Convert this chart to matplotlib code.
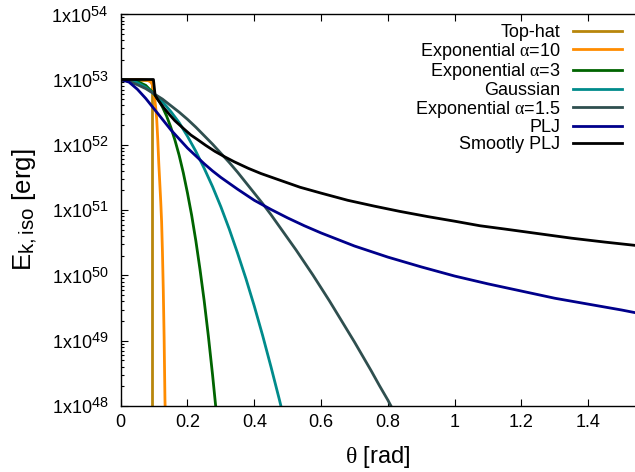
import numpy as np
import matplotlib
matplotlib.use("Agg")
import matplotlib.pyplot as plt
import matplotlib._mathtext as mathtext_internal

plt.rcParams['font.family'] = ['Liberation Sans', 'DejaVu Sans']
plt.rcParams['mathtext.fontset'] = 'custom'
plt.rcParams['mathtext.rm'] = 'Liberation Sans'
plt.rcParams['mathtext.it'] = 'Liberation Serif'
plt.rcParams['mathtext.bf'] = 'Liberation Sans:bold'
# larger sub/superscripts, like gnuplot's enhanced text
mathtext_internal.SHRINK_FACTOR = 0.8

# jet angle theta [rad] and log10 of E_k,iso [erg] for each jet structure
theta_tophat = [0.0, 0.094, 0.094]
logE_tophat = [53.0, 53.0, 46.0]

theta_exp10 = [0.0, 0.06, 0.08, 0.09, 0.097, 0.102, 0.105, 0.108, 0.111, 0.114, 0.117,
               0.12, 0.1225, 0.125, 0.1275, 0.13, 0.1325, 0.135]
logE_exp10 = [53.0, 53.0, 52.99, 52.96, 52.9, 52.7, 52.56, 52.38, 52.08, 51.72, 51.42,
              51.12, 50.82, 50.36, 49.78, 49.05, 48.1, 47.6]

theta_exp3 = [0.0, 0.05, 0.075, 0.1, 0.1125, 0.125, 0.1375, 0.15, 0.1625, 0.175, 0.1875,
              0.2, 0.2125, 0.225, 0.2375, 0.25, 0.2625, 0.275, 0.2875]
logE_exp3 = [53.0, 52.97, 52.91, 52.78, 52.69, 52.58, 52.44, 52.27, 52.07, 51.84, 51.57,
             51.26, 50.92, 50.53, 50.09, 49.61, 49.07, 48.48, 47.84]

theta_gauss = [0.0, 0.025, 0.05, 0.075, 0.1, 0.125, 0.15, 0.175, 0.2, 0.225, 0.25,
               0.275, 0.3, 0.325, 0.35, 0.375, 0.4, 0.425, 0.45, 0.475, 0.485]
logE_gauss = [53.0, 52.99, 52.95, 52.88, 52.78, 52.66, 52.51, 52.34, 52.13, 51.9, 51.64,
              51.36, 51.05, 50.71, 50.34, 49.95, 49.53, 49.08, 48.6, 48.1, 47.89]

theta_exp15 = [0.0, 0.025, 0.05, 0.075, 0.1, 0.125, 0.15, 0.175, 0.2, 0.225, 0.25,
               0.275, 0.3, 0.325, 0.35, 0.375, 0.4, 0.425, 0.45, 0.475, 0.5, 0.525,
               0.55, 0.575, 0.6, 0.625, 0.65, 0.675, 0.7, 0.725, 0.75, 0.775, 0.8, 0.825]
logE_exp15 = [53.0, 52.97, 52.92, 52.86, 52.78, 52.7, 52.6, 52.5, 52.39, 52.27, 52.14,
              52.01, 51.87, 51.73, 51.58, 51.42, 51.26, 51.1, 50.93, 50.75, 50.57, 50.39,
              50.2, 50.01, 49.81, 49.61, 49.4, 49.19, 48.98, 48.76, 48.54, 48.31, 48.09, 47.85]

theta_plj = [0.0, 0.025, 0.05, 0.075, 0.1, 0.125, 0.15, 0.175, 0.2, 0.225, 0.25, 0.275,
             0.3, 0.35, 0.4, 0.45, 0.5, 0.55, 0.6, 0.65, 0.7, 0.8, 0.9, 1.0, 1.1, 1.2,
             1.3, 1.4, 1.5, 1.54]
logE_plj = [53.0, 52.96, 52.85, 52.71, 52.55, 52.39, 52.23, 52.09, 51.95, 51.83, 51.71, 51.6,
            51.5, 51.32, 51.15, 51.01, 50.88, 50.76, 50.65, 50.55, 50.45, 50.28, 50.13, 49.99,
            49.87, 49.76, 49.65, 49.56, 49.47, 49.43]

theta_spl = [0.0, 0.098, 0.103, 0.11, 0.12, 0.13, 0.14, 0.15, 0.162, 0.175, 0.19, 0.21,
             0.23, 0.255, 0.282, 0.31, 0.34, 0.382, 0.42, 0.47, 0.537, 0.6, 0.68, 0.76,
             0.836, 0.92, 1.0, 1.076, 1.15, 1.25, 1.35, 1.45, 1.54]
logE_spl = [53.0, 53.0, 52.76, 52.7, 52.63, 52.56, 52.5, 52.44, 52.37, 52.31, 52.24, 52.15,
            52.08, 51.99, 51.9, 51.82, 51.74, 51.64, 51.56, 51.47, 51.35, 51.26, 51.15, 51.06,
            50.98, 50.9, 50.83, 50.76, 50.71, 50.64, 50.57, 50.51, 50.46]

series = [
    ("Top-hat", theta_tophat, logE_tophat, "#b8860b"),
    (r"Exponential $\alpha$=10", theta_exp10, logE_exp10, "#ff8c00"),
    (r"Exponential $\alpha$=3", theta_exp3, logE_exp3, "#006400"),
    ("Gaussian", theta_gauss, logE_gauss, "#008b8b"),
    (r"Exponential $\alpha$=1.5", theta_exp15, logE_exp15, "#2f4f4f"),
    ("PLJ", theta_plj, logE_plj, "#00008b"),
    ("Smootly PLJ", theta_spl, logE_spl, "#000000"),
]

xticks = [0, 0.2, 0.4, 0.6, 0.8, 1, 1.2, 1.4]
xtick_labels = ["0", "0.2", "0.4", "0.6", "0.8", "1", "1.2", "1.4"]
ydecades = [48, 49, 50, 51, 52, 53, 54]

fig = plt.figure(figsize=(6.35, 4.72), dpi=100)
ax = fig.add_axes([120.7 / 635, 66 / 472, 1 - 120.7 / 635, (406 - 14.2) / 472])

for label, th, le, col in series:
    ax.plot(th, 10.0 ** np.array(le), color=col, lw=2.0, label=label,
            solid_joinstyle='round')

ax.set_yscale('log')
ax.set_xlim(0, 1.54)
ax.set_ylim(1e48, 1e54)
ax.set_xticks(xticks)
ax.set_xticklabels(xtick_labels)
ax.set_yticks([10.0 ** d for d in ydecades])
ax.set_yticklabels([r'1x10$^{%d}$' % d for d in ydecades])
ax.yaxis.set_minor_locator(matplotlib.ticker.LogLocator(base=10, subs=np.arange(2, 10)))
ax.yaxis.set_minor_formatter(matplotlib.ticker.NullFormatter())

ax.tick_params(which='both', direction='in', top=True, right=False, labelsize=13)
ax.tick_params(which='major', length=5, width=0.8)
ax.tick_params(which='minor', length=2.5, width=0.8)
ax.tick_params(axis='y', pad=9)
ax.tick_params(axis='x', pad=6)
ax.spines['right'].set_visible(False)
for s in ['left', 'bottom', 'top']:
    ax.spines[s].set_linewidth(1.0)

ax.set_xlabel(r'$\theta$ [rad]', fontsize=17, labelpad=9)
ax.set_ylabel(r'E$_{\rm k,iso}$ [erg]', fontsize=18.5, labelpad=9)

ax.legend(loc='upper right', bbox_to_anchor=(622 / 635, 1 - 24 / 472),
          bbox_transform=fig.transFigure, frameon=False, markerfirst=False,
          fontsize=13, handlelength=2.73, handletextpad=0.7, labelspacing=-0.02,
          borderpad=0, borderaxespad=0)

fig.savefig('out.png', dpi=100)
